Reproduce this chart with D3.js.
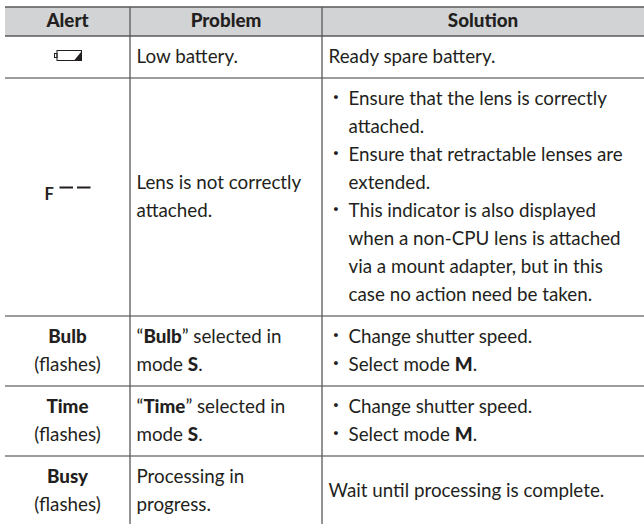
<!DOCTYPE html>
<html><head><meta charset="utf-8">
<script src="https://cdn.jsdelivr.net/npm/d3@7"></script>
<style>html,body{margin:0;padding:0;background:#fff}svg{display:block}
text{font-family:"Lato",sans-serif;font-size:18.8px;fill:#231f20}</style>
</head><body><script>
const headers = ["Alert", "Problem", "Solution"];
const alerts = ["@battery", "@fdash", ["**Bulb**", "(flashes)"], ["**Time**", "(flashes)"], ["**Busy**", "(flashes)"]];
const problems = [
  ["Low battery."],
  ["Lens is not correctly", "attached."],
  ["“**Bulb**” selected in", "mode **S**."],
  ["“**Time**” selected in", "mode **S**."],
  ["Processing in", "progress."]
];
const solutions = [
  [{t:"Ready spare battery."}],
  [{b:1,t:"Ensure that the lens is correctly"},{t:"attached.",i:1},{b:1,t:"Ensure that retractable lenses are"},{t:"extended.",i:1},
   {b:1,t:"This indicator is also displayed"},{t:"when a non-CPU lens is attached",i:1},{t:"via a mount adapter, but in this",i:1},{t:"case no action need be taken.",i:1}],
  [{b:1,t:"Change shutter speed."},{b:1,t:"Select mode **M**."}],
  [{b:1,t:"Change shutter speed."},{b:1,t:"Select mode **M**."}],
  [{t:"Wait until processing is complete."}]
];

const W = 644, H = 524;
const colEdges = [5, 130, 322, 644];
const rowEdges = [7, 36, 78, 316, 386, 456, 526];
const LH = 28, PAD = 6.5, INDENT = 20;
const svg = d3.select("body").append("svg").attr("width", W).attr("height", H);

const colIdx = d3.scaleOrdinal().domain(headers).range([0,1,2]);
const colCenter = d => (colEdges[colIdx(d)] + colEdges[colIdx(d)+1]) / 2;

svg.append("rect").attr("x", colEdges[0]).attr("y", rowEdges[0])
  .attr("width", W-colEdges[0]).attr("height", rowEdges[1]-rowEdges[0]).attr("fill", "#d2d3d5");

svg.selectAll(".h").data(rowEdges.slice(0,-1)).join("line")
  .attr("x1", colEdges[0]).attr("x2", W).attr("y1", d=>d).attr("y2", d=>d)
  .attr("stroke", (d,i)=> i<2 ? "#58595b" : "#3a3a3c").attr("stroke-width", (d,i)=> i<2 ? 1.5 : 1.2);
svg.selectAll(".v").data(colEdges.slice(1,3)).join("line")
  .attr("x1", d=>d).attr("x2", d=>d).attr("y1", rowEdges[0]).attr("y2", H)
  .attr("stroke", "#58595b").attr("stroke-width", 1.3);

function rich(sel, str) {
  str.split("**").forEach((s,i)=>{
    if (s) sel.append("tspan").attr("font-weight", i%2 ? 900 : 400).text(s);
  });
}
const OFFSET = 5.5;

svg.selectAll(".head").data(headers).join("text")
  .attr("x", colCenter).attr("y", 27).attr("text-anchor","middle")
  .attr("font-weight",900).text(d=>d);

function block(lines, rowI, x, anchor) {
  const cy = (rowEdges[rowI+1] + rowEdges[rowI+2]) / 2;
  const top = cy - (lines.length-1)*LH/2 + OFFSET;
  lines.forEach((l,i)=>{
    const t = svg.append("text").attr("x", x(l)).attr("y", top + i*LH).attr("text-anchor", anchor);
    rich(t, typeof l === "string" ? l : l.t);
    if (l.b) svg.append("text").attr("x", colEdges[2]+14).attr("y", top+i*LH-2)
       .attr("text-anchor","middle").attr("font-weight",900).text("·");
  });
}
alerts.forEach((a,i)=>{
  if (Array.isArray(a)) block(a, i, ()=>colCenter("Alert"), "middle");
});
problems.forEach((p,i)=> block(p, i, ()=>colEdges[1]+PAD, "start"));
solutions.forEach((s,i)=> block(s, i, l=>colEdges[2]+PAD+((l.b||l.i)?INDENT:0), "start"));

// icons
const bat = svg.append("g");
bat.append("rect").attr("x",57).attr("y",50.5).attr("width",24.5).attr("height",10).attr("fill","none").attr("stroke","#231f20").attr("stroke-width",1);
bat.append("rect").attr("x",54.5).attr("y",53.5).attr("width",2.5).attr("height",4).attr("fill","none").attr("stroke","#231f20").attr("stroke-width",1);
bat.append("path").attr("d",d3.line()([[74.5,60],[81,52],[81,60]])+"Z").attr("fill","#231f20");
svg.append("text").attr("x",44.5).attr("y",200).attr("font-weight",700).style("font-size","16.5px").text("F");
svg.selectAll(".dash").data([59.5,77]).join("rect").attr("x",d=>d).attr("y",186.5).attr("width",13.5).attr("height",2).attr("fill","#231f20");
</script></body></html>
